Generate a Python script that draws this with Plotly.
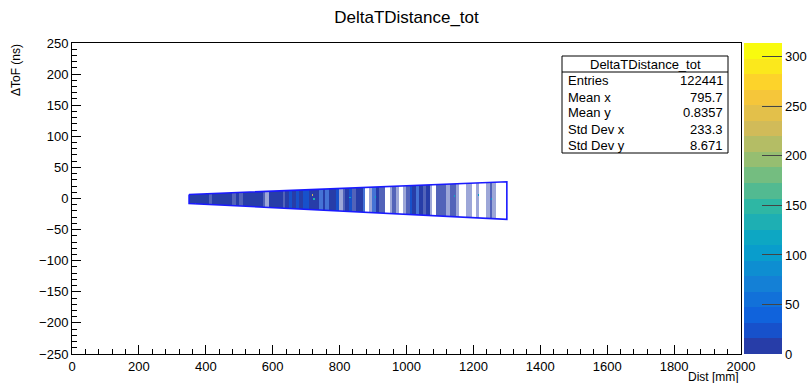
import numpy as np
import plotly.graph_objects as go

# ---------------- data ----------------
# vertical strips of the 2D histogram (start of each 10 mm strip)
strip_start = list(range(350, 1300, 10))
# occupancy class per strip: 0 empty, 1 sparse, 2 medium, 3 dense
strip_occ = [3, 3, 3, 3, 3, 3, 2, 3, 3, 3,   # 350-440
             3, 3, 3, 2, 3, 2, 3, 3, 3, 3,   # 450-540
             3, 3, 2, 1, 3, 3, 3, 3, 2, 3,   # 550-640
             3, 3, 3, 3, 3, 3, 3, 3, 3, 2,   # 650-740
             3, 2, 3, 3, 3, 1, 2, 3, 3, 2,   # 750-840
             3, 3, 2, 0, 1, 2, 3, 2, 2, 0,   # 850-940
             1, 2, 1, 0, 1, 2, 3, 3, 2, 3,   # 950-1040
             2, 3, 1, 0, 2, 2, 2, 1, 2, 2,   # 1050-1140
             1, 0, 0, 1, 1, 0, 1, 0, 0, 1,   # 1150-1240
             2, 1, 0, 0, 0]                  # 1250-1290
# typical bin content per strip
strip_counts = [12] * 30 + [20, 12, 20, 12, 20, 20, 12, 12, 12, 20,
                            12, 20, 12, 12, 20, 12, 12, 12, 20, 12,
                            12, 12, 20, 12, 12, 20, 12, 12, 12, 12,
                            12, 12, 12, 12, 12, 12, 20, 12, 20, 12,
                            12, 12, 12, 12, 12, 12, 12, 12, 12, 12,
                            12, 12, 12, 12, 12, 12, 12, 12, 12, 12,
                            12, 12, 12, 12, 12]
# isolated high bins
hot_x = [719, 726, 834, 909, 1145, 1216, 1255]
hot_y = [5.5, 0.0, 2.0, 3.0, 5.0, 6.0, 0.0]
hot_z = [230, 130, 120, 110, 120, 100, 100]

# selection outline (TCutG-like) corners
cut_x = [350, 1300, 1300, 350, 350]
cut_y = [6.5, 27.0, -33.5, -8.0, 6.5]

# stats box
stats_title = "DeltaTDistance_tot"
stats_names = ["Entries", "Mean x", "Mean y", "Std Dev x", "Std Dev y"]
stats_values = ["122441", "795.7", "0.8357", "233.3", "8.671"]

z_max = 314
cbar_ticks = [0, 50, 100, 150, 200, 250, 300]

# ---------------- build heatmap tables ----------------
xbin, ybin = 4.0, 1.0
xc = np.arange(350, 1300, xbin) + xbin / 2
yc = np.arange(-36, 30, ybin) + ybin / 2
top = np.interp(xc, [cut_x[0], cut_x[1]], [cut_y[0], cut_y[1]])
bot = np.interp(xc, [cut_x[3], cut_x[2]], [cut_y[3], cut_y[2]])
sidx = np.clip(((xc - 350) // 10).astype(int), 0, len(strip_start) - 1)

layers = {1: [[None] * len(xc) for _ in yc],
          2: [[None] * len(xc) for _ in yc],
          3: [[None] * len(xc) for _ in yc]}
for i, x in enumerate(xc):
    occ = strip_occ[sidx[i]]
    if occ == 0:
        continue
    for j, y in enumerate(yc):
        if bot[i] <= y <= top[i]:
            layers[occ][j][i] = strip_counts[sidx[i]]
for hx, hy, hz in zip(hot_x, hot_y, hot_z):
    i = int(np.argmin(np.abs(xc - hx)))
    j = int(np.argmin(np.abs(yc - hy)))
    for jj in (j - 1, j, j + 1):
        layers[3][jj][i] = hz

# ROOT kBird palette, 20 discrete contours
stops = [0.0, 0.125, 0.25, 0.375, 0.5, 0.625, 0.75, 0.875, 1.0]
red = [0.2082, 0.0592, 0.0780, 0.0232, 0.1802, 0.5301, 0.8186, 0.9956, 0.9764]
green = [0.1664, 0.3599, 0.5041, 0.6419, 0.7178, 0.7492, 0.7328, 0.7862, 0.9832]
blue = [0.5293, 0.8684, 0.8385, 0.7914, 0.6425, 0.4662, 0.3499, 0.1968, 0.0539]
ndiv = 20
cs = []
for k in range(ndiv):
    idx = int((k + 0.99) * 255 / ndiv)
    f = min(idx, 254) / 254
    r = np.interp(f, stops, red); g = np.interp(f, stops, green); b = np.interp(f, stops, blue)
    col = "rgb(%d,%d,%d)" % (round(r * 255), round(g * 255), round(b * 255))
    cs.append([k / ndiv, col])
    cs.append([(k + 1) / ndiv, col])

W, H = 808, 383
L, R, T, B = 72, 741, 43, 354

fig = go.Figure()
opac = {1: 0.45, 2: 0.8, 3: 1.0}
for occ in (1, 2, 3):
    fig.add_trace(go.Heatmap(
        x=xc, y=yc, z=layers[occ], zmin=0, zmax=z_max, colorscale=cs,
        opacity=opac[occ], hoverongaps=False, showscale=(occ == 3),
        colorbar=dict(xref="paper", x=(744 - L) / (R - L), xanchor="left", xpad=0, ypad=0,
                      yref="paper", y=0.5, yanchor="middle",
                      len=1, lenmode="fraction",
                      thickness=38, thicknessmode="pixels", outlinewidth=0,
                      tickvals=cbar_ticks, ticks="inside", ticklen=20,
                      tickcolor="#444", tickwidth=1,
                      tickfont=dict(family="Liberation Sans, Arial", size=13, color="black"))
        if occ == 3 else None,
    ))

fig.add_trace(go.Scatter(x=cut_x, y=cut_y, mode="lines",
                         line=dict(color="#1a1aff", width=1.6),
                         showlegend=False, hoverinfo="skip"))

font = dict(family="Liberation Sans, Arial, sans-serif", size=13, color="black")
axis_common = dict(showline=True, linecolor="black", linewidth=1, mirror=True,
                   ticks="inside", ticklen=9, tickcolor="black", showgrid=False,
                   zeroline=False, tickfont=font, automargin=False)
fig.update_xaxes(range=[0, 2000], dtick=200, tick0=0,
                 minor=dict(dtick=40, ticks="inside", ticklen=5, tickcolor="black"),
                 **axis_common)
fig.update_yaxes(range=[-250, 250], dtick=50, tick0=0,
                 minor=dict(dtick=10, ticks="inside", ticklen=5, tickcolor="black"),
                 **axis_common)

def px(xp):
    return (xp - L) / (R - L)

def py(yp):
    return (B - yp) / (B - T)

shapes = [
    dict(type="rect", xref="paper", yref="paper", x0=px(562), x1=px(728),
         y0=py(153), y1=py(56), line=dict(color="black", width=1), fillcolor="white"),
    dict(type="line", xref="paper", yref="paper", x0=px(562), x1=px(728),
         y0=py(72), y1=py(72), line=dict(color="black", width=1)),
]
ann = [dict(text=stats_title, x=px(645), y=py(64), xref="paper", yref="paper",
            showarrow=False, xanchor="center", yanchor="middle", font=font)]
row_y = [80, 97, 113, 129, 145]
for name, val, ry in zip(stats_names, stats_values, row_y):
    ann.append(dict(text=name, x=px(566), y=py(ry), xref="paper", yref="paper",
                    showarrow=False, xanchor="left", yanchor="middle", font=font))
    ann.append(dict(text=val, x=px(725), y=py(ry), xref="paper", yref="paper",
                    showarrow=False, xanchor="right", yanchor="middle", font=font))
ann.append(dict(text="Dist [mm]", x=px(741), y=py(377), xref="paper", yref="paper",
                showarrow=False, xanchor="right", yanchor="middle",
                font=dict(family="Liberation Sans, Arial", size=12, color="black")))
ann.append(dict(text="ΔToF (ns)", x=px(16), y=py(42), xref="paper", yref="paper",
                showarrow=False, xanchor="center", yanchor="top", textangle=-90,
                font=dict(family="Liberation Sans, Arial", size=12, color="black")))

fig.update_layout(
    width=W, height=H,
    margin=dict(l=L, r=W - R, t=T, b=H - B, autoexpand=False),
    paper_bgcolor="white", plot_bgcolor="white",
    title=dict(text="DeltaTDistance_tot", x=0.5, xref="paper", xanchor="center",
               y=1 - 17 / H, yref="container", yanchor="middle",
               font=dict(family="Liberation Sans, Arial", size=17, color="black")),
    shapes=shapes, annotations=ann, showlegend=False,
)

fig.write_html("out.html", config={"displayModeBar": False},
               post_script="document.body.style.margin='0';document.body.style.overflow='hidden';")
